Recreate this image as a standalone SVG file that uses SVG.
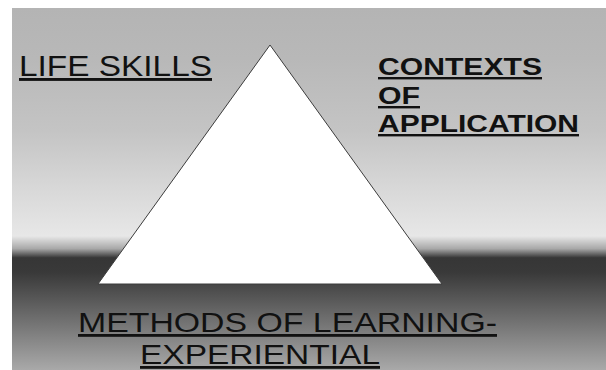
<svg xmlns="http://www.w3.org/2000/svg" width="606" height="370" viewBox="0 0 606 370">
  <defs>
    <linearGradient id="bg" gradientUnits="userSpaceOnUse" x1="0" y1="8" x2="0" y2="370">
      <stop offset="0" stop-color="#b4b4b4"/>
      <stop offset="0.14" stop-color="#b8b8b8"/>
      <stop offset="0.34" stop-color="#c4c4c4"/>
      <stop offset="0.50" stop-color="#d8d8d8"/>
      <stop offset="0.63" stop-color="#e7e7e7"/>
      <stop offset="0.665" stop-color="#a8a8a8"/>
      <stop offset="0.69" stop-color="#363636"/>
      <stop offset="0.73" stop-color="#393939"/>
      <stop offset="1" stop-color="#a9a9a9"/>
    </linearGradient>
  </defs>
  <style>
    .lbl { font-family: "Liberation Sans", Arial, sans-serif; fill: #111111; text-decoration: underline; }
    .reg { font-weight: normal; }
    .bold { font-weight: bold; }
    .tri { fill: #ffffff; stroke: #3c3c3c; stroke-width: 1; }
  </style>
  <rect x="0" y="0" width="606" height="370" fill="#ffffff"/>
  <rect x="12" y="8" width="594" height="362" fill="url(#bg)"/>
  <g id="triangle">
    <polygon class="tri" points="270,45 442,284 98,284"/>
  </g>
  <g id="life-skills">
    <text class="lbl reg" x="19" y="76" font-size="29" textLength="193" lengthAdjust="spacingAndGlyphs">LIFE SKILLS</text>
  </g>
  <g id="contexts">
    <text class="lbl bold" x="378" y="75" font-size="24" textLength="164" lengthAdjust="spacingAndGlyphs">CONTEXTS</text>
    <text class="lbl bold" x="378" y="104" font-size="24" textLength="42" lengthAdjust="spacingAndGlyphs">OF</text>
    <text class="lbl bold" x="378" y="132" font-size="24" textLength="201" lengthAdjust="spacingAndGlyphs">APPLICATION</text>
  </g>
  <g id="methods">
    <text class="lbl reg" x="78" y="332" font-size="28" textLength="419" lengthAdjust="spacingAndGlyphs">METHODS OF LEARNING-</text>
    <text class="lbl reg" x="140" y="364" font-size="28" textLength="240" lengthAdjust="spacingAndGlyphs">EXPERIENTIAL</text>
  </g>
  <g id="connectors"/>
</svg>
